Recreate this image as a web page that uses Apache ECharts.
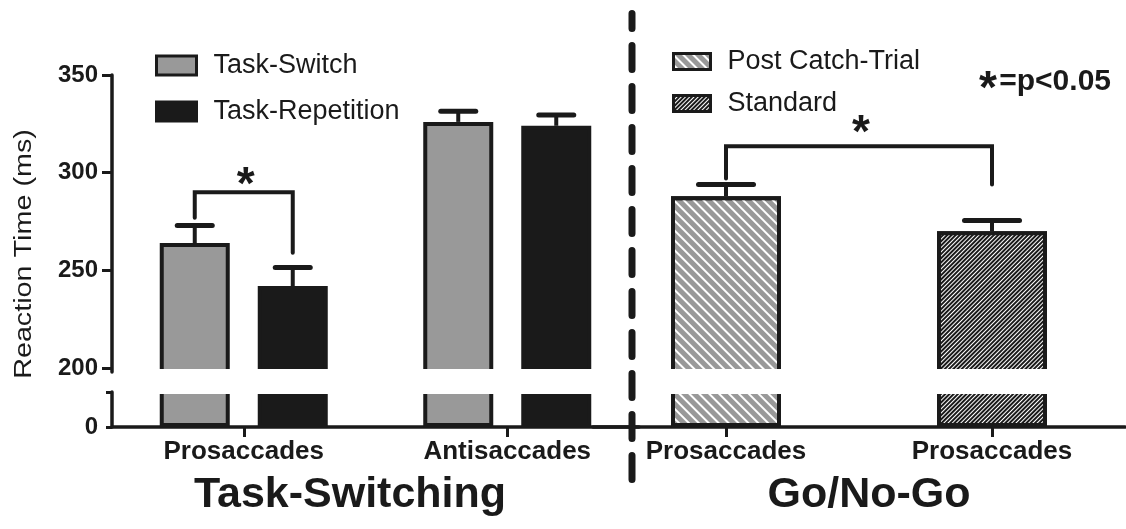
<!DOCTYPE html>
<html>
<head>
<meta charset="utf-8">
<title>Reaction Time</title>
<script src="https://cdn.jsdelivr.net/npm/echarts@6.0.0/dist/echarts.min.js"></script>
<style>
  html, body { margin: 0; padding: 0; background: #fff; }
  #reactionChart { width: 1126px; height: 529px; }
</style>
</head>
<body>
<div id="reactionChart"></div>
<script>
// ---- data ----
var switchCategories = ['Prosaccades', 'Antisaccades'];
var taskSwitch = [264, 326];
var taskSwitchErr = [9, 5.5];
var taskRepetition = [242, 324];
var taskRepetitionErr = [9.5, 5.5];

var goNoGoCategories = ['Prosaccades', 'Prosaccades'];
var postCatchTrial = [288, '-'];
var postCatchTrialErr = [6, '-'];
var standard = ['-', 270];
var standardErr = ['-', 5.5];

var upperTicks = [200, 250, 300, 350];
var lowerTicks = [0];

// significance brackets
// task switching: [category, top, left leg end, right leg end, star]
var switchBracket = [[0, 290, 277, 259, 297.5]];
// go/no-go: [from category, to category, top, left leg end, right leg end, star]
var goNoGoBracket = [[0, 1, 313.5, 297, 294, 324.5]];

// ---- styling ----
var ink = '#1a1a1a';
var grey = '#999999';
var fontFamily = 'Liberation Sans';
var switchBarWidth = 70;
var switchBarGap = 28;
var goNoGoBarWidth = 110;
var slotOffset = (switchBarWidth + switchBarGap) / 2;
var starSize = 46;

var upperMin = 198, upperMax = 350;
var lowerMax = 18;

var postCatchDecal = { symbol: 'rect', symbolSize: 1, color: '#ffffff', dashArrayX: [1, 0], dashArrayY: [2, 5], rotation: Math.PI / 4 };
var standardDecal = { symbol: 'rect', symbolSize: 1, color: '#ffffff', dashArrayX: [1, 0], dashArrayY: [1, 2], rotation: -Math.PI / 4 };

// error bar rows: [category, value, err, slot]
var switchErrData = [];
switchCategories.forEach(function (c, i) {
  switchErrData.push([i, taskSwitch[i], taskSwitchErr[i], 0]);
  switchErrData.push([i, taskRepetition[i], taskRepetitionErr[i], 1]);
});
var goNoGoErrData = [];
goNoGoCategories.forEach(function (c, i) {
  if (postCatchTrial[i] !== '-') goNoGoErrData.push([i, postCatchTrial[i], postCatchTrialErr[i], 0]);
  if (standard[i] !== '-') goNoGoErrData.push([i, standard[i], standardErr[i], 0]);
});

function errorBars(offsets, capHalf) {
  return function (params, api) {
    var cat = api.value(0);
    var val = api.value(1);
    var base = api.coord([cat, val]);
    var top = api.coord([cat, val + api.value(2)]);
    var x = base[0] + offsets[api.value(3)];
    return {
      type: 'group',
      children: [
        { type: 'line', shape: { x1: x, y1: base[1], x2: x, y2: top[1] }, style: { stroke: ink, lineWidth: 4 } },
        { type: 'line', shape: { x1: x - capHalf, y1: top[1], x2: x + capHalf, y2: top[1] }, style: { stroke: ink, lineWidth: 5, lineCap: 'round' } }
      ]
    };
  };
}

function bracketShape(x1, x2, yTop, yL, yR, yStar) {
  return {
    type: 'group',
    children: [
      {
        type: 'polyline',
        shape: { points: [[x1, yL], [x1, yTop], [x2, yTop], [x2, yR]] },
        style: { stroke: ink, lineWidth: 4, fill: null, lineCap: 'round' }
      },
      {
        type: 'text',
        x: (x1 + x2) / 2 + 2,
        y: yStar + 0.2 * starSize,
        style: {
          text: '*', fill: ink, font: 'bold ' + starSize + 'px ' + fontFamily,
          align: 'center', verticalAlign: 'middle', textAlign: 'center', textVerticalAlign: 'middle'
        }
      }
    ]
  };
}

function switchBracketItem(params, api) {
  var cat = api.value(0);
  var c = api.coord([cat, api.value(1)]);
  return bracketShape(
    c[0] - slotOffset, c[0] + slotOffset, c[1],
    api.coord([cat, api.value(2)])[1],
    api.coord([cat, api.value(3)])[1],
    api.coord([cat, api.value(4)])[1]
  );
}

function goNoGoBracketItem(params, api) {
  var a = api.coord([api.value(0), api.value(2)]);
  var b = api.coord([api.value(1), api.value(2)]);
  return bracketShape(
    a[0], b[0], a[1],
    api.coord([api.value(0), api.value(3)])[1],
    api.coord([api.value(1), api.value(4)])[1],
    api.coord([api.value(0), api.value(5)])[1]
  );
}

function shownX(cats, gridIndex) {
  return {
    type: 'category', gridIndex: gridIndex, data: cats,
    axisLine: { show: true, lineStyle: { color: ink, width: 3.5 } },
    axisTick: { show: true, alignWithLabel: true, length: 10, lineStyle: { color: ink, width: 3 } },
    axisLabel: { show: true, color: ink, fontFamily: fontFamily, fontWeight: 'bold', fontSize: 26, margin: 12 },
    splitLine: { show: false }
  };
}

var chart = echarts.init(document.getElementById('reactionChart'));
chart.setOption({
  animation: false,
  backgroundColor: '#ffffff',
  grid: [
    { left: 112, top: 75, width: 527, height: 297, outerBoundsMode: 'none' },
    { left: 112, top: 392, width: 527, height: 35, outerBoundsMode: 'none' },
    { left: 593, top: 75, width: 532, height: 297, outerBoundsMode: 'none' },
    { left: 593, top: 392, width: 532, height: 35, outerBoundsMode: 'none' }
  ],
  xAxis: [
    { type: 'category', gridIndex: 0, data: switchCategories, show: false },
    shownX(switchCategories, 1),
    { type: 'category', gridIndex: 2, data: goNoGoCategories, show: false },
    shownX(goNoGoCategories, 3)
  ],
  yAxis: [
    {
      type: 'value', gridIndex: 0, min: upperMin, max: upperMax,
      axisLine: { show: true, lineStyle: { color: ink, width: 3.5 } },
      axisTick: { show: true, length: 10, customValues: upperTicks, lineStyle: { color: ink, width: 3 } },
      axisLabel: { customValues: upperTicks, color: ink, fontFamily: fontFamily, fontWeight: 'bold', fontSize: 24, margin: 14 },
      splitLine: { show: false }
    },
    {
      type: 'value', gridIndex: 1, min: 0, max: lowerMax,
      axisLine: { show: true, lineStyle: { color: ink, width: 3.5 } },
      axisTick: { show: true, length: 6, customValues: [0, lowerMax], lineStyle: { color: ink, width: 3 } },
      axisLabel: { customValues: lowerTicks, color: ink, fontFamily: fontFamily, fontWeight: 'bold', fontSize: 24, margin: 14 },
      splitLine: { show: false }
    },
    { type: 'value', gridIndex: 2, min: upperMin, max: upperMax, show: false, splitLine: { show: false } },
    { type: 'value', gridIndex: 3, min: 0, max: lowerMax, show: false, splitLine: { show: false } }
  ],
  legend: [
    {
      data: ['Task-Switch', 'Task-Repetition'],
      orient: 'vertical', left: 150, top: 47, icon: 'rect',
      itemWidth: 40, itemHeight: 19, itemGap: 19, selectedMode: false,
      itemStyle: { borderColor: ink, borderWidth: 3 },
      textStyle: { color: ink, fontFamily: fontFamily, fontSize: 27, padding: [0, 0, 0, 12] }
    },
    {
      data: ['Post Catch-Trial', 'Standard'],
      orient: 'vertical', left: 667, top: 43, icon: 'rect',
      itemWidth: 37, itemHeight: 16, itemGap: 15, selectedMode: false,
      itemStyle: { borderColor: ink, borderWidth: 3 },
      textStyle: { color: ink, fontFamily: fontFamily, fontSize: 27, padding: [0, 0, 0, 12] }
    }
  ],
  graphic: [
    // hides the clipped bar edges in the axis break
    { type: 'rect', z: 100, shape: { x: 118, y: 369, width: 1008, height: 25 }, style: { fill: '#ffffff' } },
    { type: 'line', z: 101, shape: { x1: 632, y1: 13.5, x2: 632, y2: 484 },
      style: { stroke: ink, lineWidth: 7, lineDash: [24, 17], lineDashOffset: 9, lineCap: 'round' } },
    { type: 'text', z: 101, x: 24.5, y: 254, rotation: Math.PI / 2, scaleX: 1.25,
      style: { text: 'Reaction Time (ms)', fill: ink, font: '23px ' + fontFamily, textAlign: 'center', textVerticalAlign: 'middle' } },
    { type: 'text', z: 101, x: 350, y: 495,
      style: { text: 'Task-Switching', fill: ink, font: 'bold 43px ' + fontFamily, textAlign: 'center', textVerticalAlign: 'middle' } },
    { type: 'text', z: 101, x: 869, y: 495,
      style: { text: 'Go/No-Go', fill: ink, font: 'bold 43px ' + fontFamily, textAlign: 'center', textVerticalAlign: 'middle' } },
    { type: 'text', z: 101, x: 1111, y: 82,
      style: { text: '=p<0.05', fill: ink, font: 'bold 30px ' + fontFamily, textAlign: 'right', textVerticalAlign: 'middle' } },
    { type: 'text', z: 101, x: 988, y: 81 + 0.2 * starSize,
      style: { text: '*', fill: ink, font: 'bold ' + starSize + 'px ' + fontFamily, textAlign: 'center', textVerticalAlign: 'middle' } }
  ],
  series: [
    // task switching, upper part
    { name: 'Task-Switch', type: 'bar', xAxisIndex: 0, yAxisIndex: 0, data: taskSwitch,
      barWidth: switchBarWidth, barGap: (switchBarGap / switchBarWidth * 100) + '%',
      itemStyle: { color: grey, borderColor: ink, borderWidth: 4 } },
    { name: 'Task-Repetition', type: 'bar', xAxisIndex: 0, yAxisIndex: 0, data: taskRepetition,
      barWidth: switchBarWidth, barGap: (switchBarGap / switchBarWidth * 100) + '%',
      itemStyle: { color: ink, borderColor: ink, borderWidth: 4 } },
    // task switching, below the break
    { name: 'Task-Switch', type: 'bar', xAxisIndex: 1, yAxisIndex: 1, data: taskSwitch,
      barWidth: switchBarWidth, barGap: (switchBarGap / switchBarWidth * 100) + '%',
      itemStyle: { color: grey, borderColor: ink, borderWidth: 4 } },
    { name: 'Task-Repetition', type: 'bar', xAxisIndex: 1, yAxisIndex: 1, data: taskRepetition,
      barWidth: switchBarWidth, barGap: (switchBarGap / switchBarWidth * 100) + '%',
      itemStyle: { color: ink, borderColor: ink, borderWidth: 4 } },
    // go/no-go
    { name: 'Post Catch-Trial', type: 'bar', xAxisIndex: 2, yAxisIndex: 2, data: postCatchTrial,
      barWidth: goNoGoBarWidth, barGap: '-100%',
      itemStyle: { color: grey, borderColor: ink, borderWidth: 4, decal: postCatchDecal } },
    { name: 'Standard', type: 'bar', xAxisIndex: 2, yAxisIndex: 2, data: standard,
      barWidth: goNoGoBarWidth, barGap: '-100%',
      itemStyle: { color: ink, borderColor: ink, borderWidth: 4, decal: standardDecal } },
    { name: 'Post Catch-Trial', type: 'bar', xAxisIndex: 3, yAxisIndex: 3, data: postCatchTrial,
      barWidth: goNoGoBarWidth, barGap: '-100%',
      itemStyle: { color: grey, borderColor: ink, borderWidth: 4, decal: postCatchDecal } },
    { name: 'Standard', type: 'bar', xAxisIndex: 3, yAxisIndex: 3, data: standard,
      barWidth: goNoGoBarWidth, barGap: '-100%',
      itemStyle: { color: ink, borderColor: ink, borderWidth: 4, decal: standardDecal } },
    // error bars
    { type: 'custom', xAxisIndex: 0, yAxisIndex: 0, data: switchErrData, encode: { x: 0, y: 1 },
      renderItem: errorBars([-slotOffset, slotOffset], switchBarWidth / 4), z: 3 },
    { type: 'custom', xAxisIndex: 2, yAxisIndex: 2, data: goNoGoErrData, encode: { x: 0, y: 1 },
      renderItem: errorBars([0, 0], goNoGoBarWidth / 4), z: 3 },
    // significance brackets
    { type: 'custom', xAxisIndex: 0, yAxisIndex: 0, data: switchBracket, encode: { x: 0, y: 1 },
      renderItem: switchBracketItem, z: 3 },
    { type: 'custom', xAxisIndex: 2, yAxisIndex: 2, data: goNoGoBracket, encode: { x: 0, y: 2 },
      renderItem: goNoGoBracketItem, z: 3 }
  ]
});
window.addEventListener('resize', chart.resize);
</script>
</body>
</html>
